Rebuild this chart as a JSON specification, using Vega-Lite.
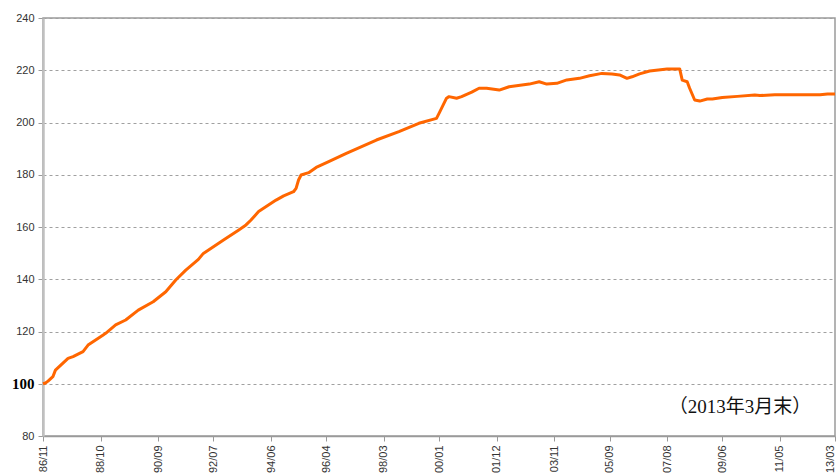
{
  "$schema": "https://vega.github.io/schema/vega-lite/v6.json",
  "width": 792,
  "height": 418,
  "autosize": "none",
  "padding": {"left": 43, "top": 18, "right": 2, "bottom": 37},
  "background": "white",
  "config": {
    "view": {"stroke": "#9a9a9a", "strokeWidth": 1.5},
    "axis": {"labelFont": "Liberation Sans", "labelFontSize": 11, "labelColor": "#333"}
  },
  "layer": [
    {
      "data": {"values": [
        {"date": "1986-11-01", "value": 100},
        {"date": "1986-12-01", "value": 100.3},
        {"date": "1987-01-01", "value": 101},
        {"date": "1987-03-01", "value": 102.7},
        {"date": "1987-04-01", "value": 105.2},
        {"date": "1987-09-01", "value": 109.7},
        {"date": "1987-11-01", "value": 110.4},
        {"date": "1988-03-01", "value": 112.3},
        {"date": "1988-05-01", "value": 114.8},
        {"date": "1988-11-01", "value": 118.7},
        {"date": "1988-12-01", "value": 119.3},
        {"date": "1989-04-01", "value": 122.5},
        {"date": "1989-08-01", "value": 124.4},
        {"date": "1990-01-01", "value": 128.2},
        {"date": "1990-07-01", "value": 131.4},
        {"date": "1990-12-01", "value": 135.2},
        {"date": "1991-04-01", "value": 139.7},
        {"date": "1991-08-01", "value": 143.5},
        {"date": "1992-01-01", "value": 147.6},
        {"date": "1992-03-01", "value": 149.9},
        {"date": "1992-11-01", "value": 155},
        {"date": "1993-05-01", "value": 158.8},
        {"date": "1993-08-01", "value": 160.8},
        {"date": "1993-10-01", "value": 162.7},
        {"date": "1994-01-01", "value": 165.9},
        {"date": "1994-08-01", "value": 170.3},
        {"date": "1994-11-01", "value": 171.9},
        {"date": "1995-03-01", "value": 173.5},
        {"date": "1995-04-01", "value": 174.8},
        {"date": "1995-05-01", "value": 178},
        {"date": "1995-06-01", "value": 179.9},
        {"date": "1995-09-01", "value": 180.8},
        {"date": "1995-12-01", "value": 182.8},
        {"date": "1996-05-01", "value": 185},
        {"date": "1996-12-01", "value": 188.2},
        {"date": "1997-12-01", "value": 193.3},
        {"date": "1998-09-01", "value": 196.5},
        {"date": "1999-05-01", "value": 199.7},
        {"date": "1999-12-01", "value": 201.6},
        {"date": "2000-01-01", "value": 203.5},
        {"date": "2000-04-01", "value": 209.3},
        {"date": "2000-05-01", "value": 209.9},
        {"date": "2000-08-01", "value": 209.3},
        {"date": "2000-10-01", "value": 209.9},
        {"date": "2001-02-01", "value": 211.6},
        {"date": "2001-05-01", "value": 213.1},
        {"date": "2001-08-01", "value": 213.1},
        {"date": "2002-01-01", "value": 212.4},
        {"date": "2002-05-01", "value": 213.7},
        {"date": "2003-01-01", "value": 214.7},
        {"date": "2003-05-01", "value": 215.6},
        {"date": "2003-08-01", "value": 214.7},
        {"date": "2003-12-01", "value": 215},
        {"date": "2004-04-01", "value": 216.3},
        {"date": "2004-09-01", "value": 216.9},
        {"date": "2005-01-01", "value": 217.9},
        {"date": "2005-06-01", "value": 218.8},
        {"date": "2005-10-01", "value": 218.6},
        {"date": "2006-01-01", "value": 218.2},
        {"date": "2006-04-01", "value": 216.9},
        {"date": "2006-06-01", "value": 217.5},
        {"date": "2006-09-01", "value": 218.6},
        {"date": "2007-01-01", "value": 219.7},
        {"date": "2007-08-01", "value": 220.5},
        {"date": "2008-01-01", "value": 220.5},
        {"date": "2008-02-01", "value": 216.2},
        {"date": "2008-04-01", "value": 215.6},
        {"date": "2008-05-01", "value": 213.1},
        {"date": "2008-07-01", "value": 208.6},
        {"date": "2008-09-01", "value": 208.2},
        {"date": "2008-12-01", "value": 209},
        {"date": "2009-02-01", "value": 209},
        {"date": "2009-06-01", "value": 209.6},
        {"date": "2009-12-01", "value": 210},
        {"date": "2010-07-01", "value": 210.5},
        {"date": "2010-09-01", "value": 210.3},
        {"date": "2011-03-01", "value": 210.6},
        {"date": "2012-09-01", "value": 210.6},
        {"date": "2012-12-01", "value": 210.9},
        {"date": "2013-03-01", "value": 210.9}
      ]},
      "mark": {"type": "line", "color": "#FF6600", "strokeWidth": 3, "strokeJoin": "round"},
      "encoding": {
        "x": {
          "field": "date",
          "type": "temporal",
          "scale": {"type": "utc", "domain": [{"year": 1986, "month": 11, "date": 1, "utc": true}, {"year": 2013, "month": 3, "date": 1, "utc": true}]},
          "axis": {
            "title": null,
            "values": [
              {"year": 1986, "month": 11, "date": 1, "utc": true},
              {"year": 1988, "month": 10, "date": 1, "utc": true},
              {"year": 1990, "month": 9, "date": 1, "utc": true},
              {"year": 1992, "month": 7, "date": 1, "utc": true},
              {"year": 1994, "month": 6, "date": 1, "utc": true},
              {"year": 1996, "month": 4, "date": 1, "utc": true},
              {"year": 1998, "month": 3, "date": 1, "utc": true},
              {"year": 2000, "month": 1, "date": 1, "utc": true},
              {"year": 2001, "month": 12, "date": 1, "utc": true},
              {"year": 2003, "month": 11, "date": 1, "utc": true},
              {"year": 2005, "month": 9, "date": 1, "utc": true},
              {"year": 2007, "month": 8, "date": 1, "utc": true},
              {"year": 2009, "month": 6, "date": 1, "utc": true},
              {"year": 2011, "month": 5, "date": 1, "utc": true},
              {"year": 2013, "month": 3, "date": 1, "utc": true}
            ],
            "format": "%y/%m",
            "labelAngle": 270,
            "labelAlign": "right",
            "labelBaseline": {"condition": {"test": "datum.index === 1", "value": "bottom"}, "value": "middle"},
            "labelPadding": 4,
            "labelFontSize": 11,
            "labelOverlap": false,
            "labelBound": false,
            "labelFlush": false,
            "grid": false,
            "domainColor": "#9a9a9a",
            "domainWidth": 1.5,
            "tickColor": "#9a9a9a",
            "tickSize": 5
          }
        },
        "y": {
          "field": "value",
          "type": "quantitative",
          "scale": {"domain": [80, 240], "nice": false, "zero": false},
          "axis": {
            "title": null,
            "values": [80, 100, 120, 140, 160, 180, 200, 220, 240],
            "labelPadding": 4,
            "labelFont": {"condition": {"test": "datum.value == 100", "value": "Liberation Serif"}, "value": "Liberation Sans"},
            "labelFontWeight": {"condition": {"test": "datum.value == 100", "value": "bold"}, "value": "normal"},
            "labelFontSize": {"condition": {"test": "datum.value == 100", "value": 15}, "value": 11},
            "labelColor": {"condition": {"test": "datum.value == 100", "value": "#000"}, "value": "#333"},
            "grid": true,
            "gridColor": "#a0a0a0",
            "gridDash": [3, 3],
            "gridWidth": 1,
            "domainColor": "#c0c0c0",
            "domainWidth": 2.5,
            "tickColor": "#9a9a9a",
            "tickSize": 5
          }
        }
      }
    },
    {
      "data": {"values": [{"date": "2010-01-01", "value": 91, "label": "（2013年3月末）"}]},
      "mark": {"type": "text", "font": "Liberation Serif, Noto Sans CJK JP", "fontSize": 19, "color": "#111", "align": "center", "baseline": "middle"},
      "encoding": {
        "x": {"field": "date", "type": "temporal"},
        "y": {"field": "value", "type": "quantitative"},
        "text": {"field": "label"}
      }
    }
  ]
}
